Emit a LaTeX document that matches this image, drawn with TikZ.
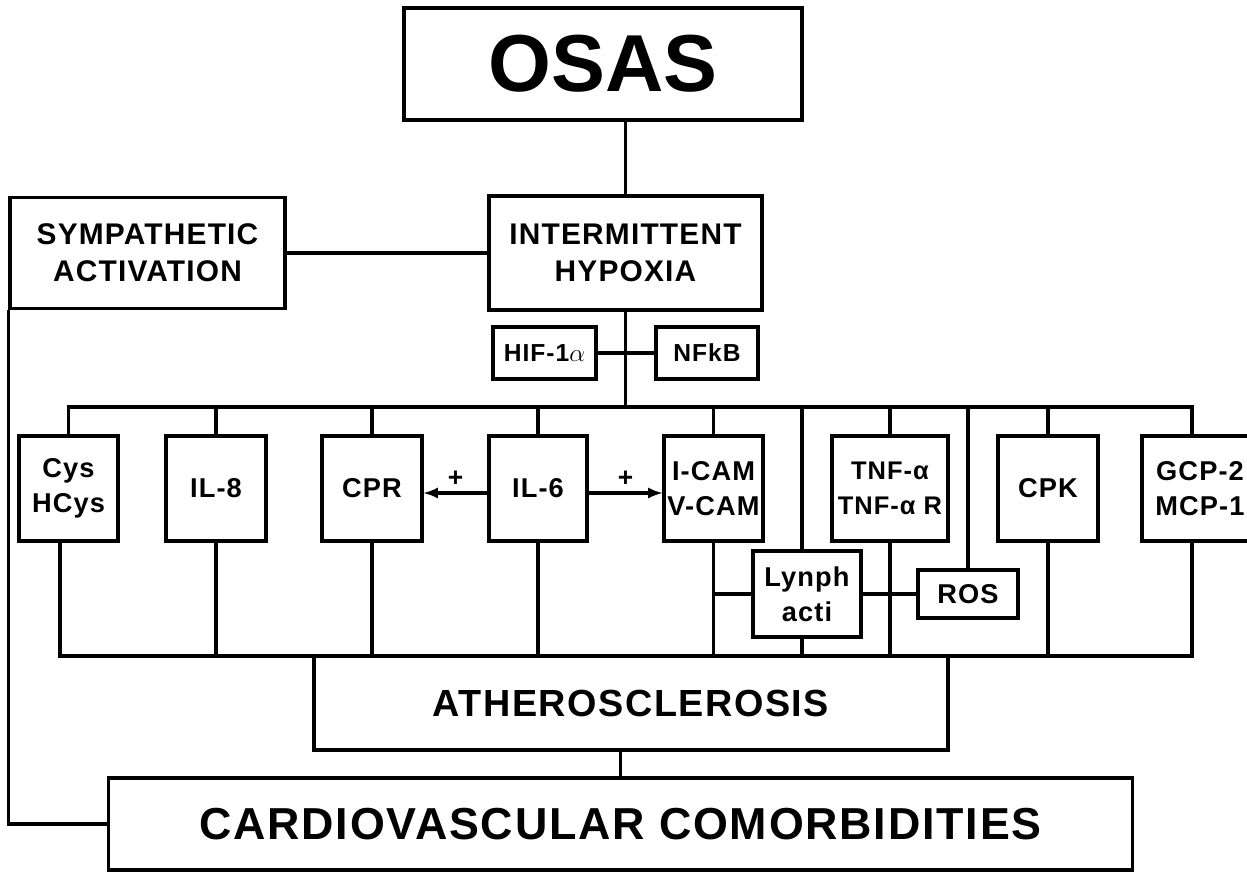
\documentclass[tikz,border=0pt]{standalone}
\usepackage{fontspec}
\setmainfont{Liberation Sans}[LetterSpace=4]
\usetikzlibrary{arrows}
\usetikzlibrary{calc}

\tikzset{
  box/.style = {draw, line width = 1.8pt, inner sep = 0pt, align = center,
    font = \bfseries\fontsize{15.5}{20}\selectfont},
  cell/.style = {box, minimum width = 2cm, minimum height = 2.1cm},
  head/.style = {font = \bfseries\fontsize{17}{21}\selectfont},
  plus/.style = {font = \bfseries\fontsize{15}{18}\selectfont, inner sep = 3pt}
}

\begin{document}
\begin{tikzpicture}[x = 0.02cm, y = -0.02cm, line width = 1.8pt]
  \useasboundingbox (0, 0) rectangle (1247, 875);
  \clip (0, 0) rectangle (1247, 875);

  % upper part
  \node[box, minimum width = 7.96cm, minimum height = 2.24cm,
    font = \bfseries\fontsize{46}{50}\selectfont\addfontfeature{LetterSpace=0}] (osas) at (603, 64) {OSAS};
  \node[box, head, minimum width = 5.46cm, minimum height = 2.28cm] (hyp) at (625.5, 253) {INTERMITTENT\\HYPOXIA};
  \node[box, head, minimum width = 5.5cm, minimum height = 2.22cm] (symp) at (147.5, 253) {SYMPATHETIC\\ACTIVATION};
  \node[box, minimum width = 2.06cm, minimum height = 1.04cm,
    font = \bfseries\fontsize{14}{16}\selectfont] (hif) at (544.5, 353) {HIF-1$\alpha$};
  \node[box, minimum width = 2.04cm, minimum height = 1.04cm,
    font = \bfseries\fontsize{14}{16}\selectfont] (nfkb) at (707, 353) {NFkB};

  % row of mediators
  \node[cell, minimum width = 1.98cm] (cys) at (68.5, 488.5) {Cys\\HCys};
  \node[cell] (il8) at (216, 488.5) {IL-8};
  \node[cell] (cpr) at (372, 488.5) {CPR};
  \node[cell, minimum width = 1.96cm] (il6) at (538, 488.5) {IL-6};
  \node[cell, minimum width = 1.98cm] (cam) at (713.5, 488.5) {I-CAM\\V-CAM};
  \node[cell, minimum width = 2.32cm, font = \bfseries\fontsize{14.5}{20}\selectfont] (tnf) at (890, 488.5) {TNF-α\\TNF-α R};
  \node[cell] (cpk) at (1048, 488.5) {CPK};
  \node[cell, minimum width = 2.32cm] (gcp) at (1200, 488.5) {GCP-2\\MCP-1};
  \node[box, minimum width = 2.16cm, minimum height = 1.72cm] (lynph) at (807, 594) {Lynph\\acti};
  \node[box, minimum width = 2cm, minimum height = 0.96cm] (ros) at (968, 594) {ROS};

  % lower part
  \node[box, minimum width = 12.68cm, minimum height = 1.88cm,
    font = \bfseries\fontsize{21.5}{24}\selectfont] (ath) at (631, 703) {ATHEROSCLEROSIS};
  \node[box, minimum width = 20.5cm, minimum height = 1.84cm,
    font = \bfseries\fontsize{25.5}{30}\selectfont] (cardio) at (620.5, 824) {CARDIOVASCULAR COMORBIDITIES};

  \coordinate (top bus) at (0, 407);
  \coordinate (low bus) at (0, 656);
  \coordinate (cys out) at (60, 0);
  \coordinate (gcp link) at (1192, 0);
  \coordinate (lynph link) at (802, 0);

  \draw (hyp.north) -- (hyp.north |- osas.south);
  \draw (symp.east) -- (hyp.west);
  \draw (symp.south west) |- (cardio.west);
  \draw (hif.east) -- (nfkb.west);
  \draw (hyp.south) -- (hyp.south |- top bus);

  % bus above the mediators
  \draw (cys.north) |- (gcp link |- top bus) -- (gcp link |- gcp.north);
  \foreach \n in {il8, cpr, il6, cam, tnf, cpk} {\draw (\n.north) -- (\n.north |- top bus);}
  \draw (lynph link |- top bus) -- (lynph link |- lynph.north);
  \draw (ros.north) -- (ros.north |- top bus);

  % bus below the mediators
  \draw (cys out |- cys.south) |- (gcp link |- low bus) -- (gcp link |- gcp.south);
  \foreach \n in {il8, cpr, il6, cam, tnf, cpk} {\draw (\n.south) -- (\n.south |- low bus);}
  \draw (lynph link |- lynph.south) -- (lynph link |- low bus);
  \draw (cam.south |- lynph.west) -- (lynph.west);
  \draw (lynph.east) -- (ros.west);

  \draw (cardio.north) -- (cardio.north |- ath.south);

  % IL-6 effects
  \draw[-latex] ([yshift = -0.09cm]il6.west) -- node[above, plus] {+} ([yshift = -0.09cm]cpr.east);
  \draw[-latex] ([yshift = -0.09cm]il6.east) -- node[above, plus] {+} ([yshift = -0.09cm]cam.west);
\end{tikzpicture}
\end{document}
